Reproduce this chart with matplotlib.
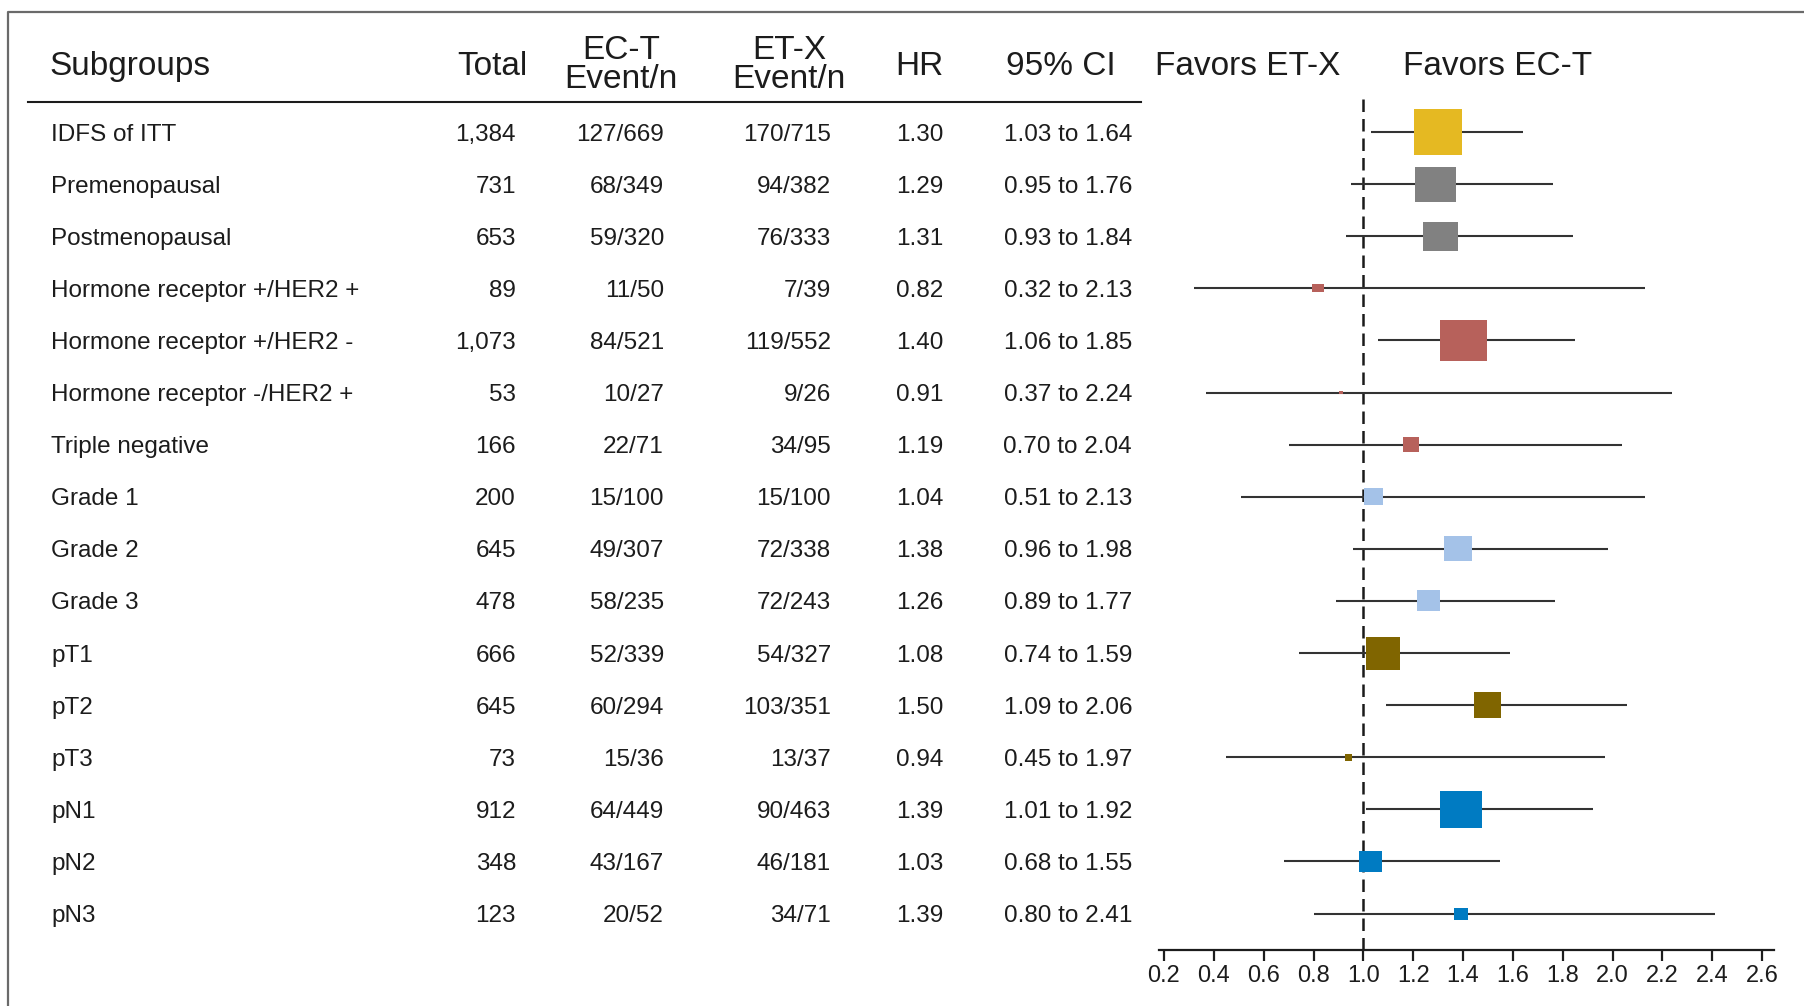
import matplotlib
matplotlib.use("Agg")
import matplotlib.pyplot as plt
from matplotlib.lines import Line2D
from matplotlib.patches import Rectangle
from matplotlib.transforms import blended_transform_factory

plt.rcParams['font.family'] = ['Liberation Sans', 'DejaVu Sans']

subgroups = [
    'IDFS of ITT', 'Premenopausal', 'Postmenopausal',
    'Hormone receptor +/HER2 +', 'Hormone receptor +/HER2 -',
    'Hormone receptor -/HER2 +', 'Triple negative',
    'Grade 1', 'Grade 2', 'Grade 3', 'pT1', 'pT2', 'pT3', 'pN1', 'pN2', 'pN3',
]
total = ['1,384', '731', '653', '89', '1,073', '53', '166', '200', '645', '478',
         '666', '645', '73', '912', '348', '123']
ect_events = ['127/669', '68/349', '59/320', '11/50', '84/521', '10/27', '22/71',
              '15/100', '49/307', '58/235', '52/339', '60/294', '15/36', '64/449',
              '43/167', '20/52']
etx_events = ['170/715', '94/382', '76/333', '7/39', '119/552', '9/26', '34/95',
              '15/100', '72/338', '72/243', '54/327', '103/351', '13/37', '90/463',
              '46/181', '34/71']
hr = [1.30, 1.29, 1.31, 0.82, 1.40, 0.91, 1.19, 1.04, 1.38, 1.26,
      1.08, 1.50, 0.94, 1.39, 1.03, 1.39]
ci_lo = [1.03, 0.95, 0.93, 0.32, 1.06, 0.37, 0.70, 0.51, 0.96, 0.89,
         0.74, 1.09, 0.45, 1.01, 0.68, 0.80]
ci_hi = [1.64, 1.76, 1.84, 2.13, 1.85, 2.24, 2.04, 2.13, 1.98, 1.77,
         1.59, 2.06, 1.97, 1.92, 1.55, 2.41]
xticks = [0.2, 0.4, 0.6, 0.8, 1.0, 1.2, 1.4, 1.6, 1.8, 2.0, 2.2, 2.4, 2.6]

# box size per row (pixels, w x h) and colour per subgroup block
box_px = [(48, 46), (41, 35), (35, 29), (12, 8), (47, 41), (4, 3), (16, 15),
          (19, 17), (28, 25), (23, 21), (34, 33), (27, 26), (7, 7),
          (42, 37), (23, 21), (14, 12)]
colors = ['#E5B922'] + ['#818181'] * 2 + ['#B7615B'] * 4 + ['#A4C2E8'] * 3 \
    + ['#806500'] * 3 + ['#007BC2'] * 3

W, H = 1804, 1006
TXT = '#1c1c1c'
fig = plt.figure(figsize=(W / 100, H / 100), dpi=100)

# forest panel: x maps 0.2 -> 1164px, 2.6 -> 1762px
px_per_unit = (1762 - 1164) / 2.4
x0, x1 = 0.178, 2.65
left = 1164 + (x0 - 0.2) * px_per_unit
right = 1164 + (x1 - 0.2) * px_per_unit
row0, row_gap = 132, 52.1
y_top_px, y_bot_px = 97, 950
ax = fig.add_axes([left / W, 1 - y_bot_px / H, (right - left) / W, (y_bot_px - y_top_px) / H])
ax.set_xlim(x0, x1)
ax.set_ylim((y_bot_px - row0) / row_gap, (y_top_px - row0) / row_gap)

for s in ['top', 'right', 'left']:
    ax.spines[s].set_visible(False)
ax.spines['bottom'].set_linewidth(1.6)
ax.spines['bottom'].set_color(TXT)
ax.set_yticks([])
ax.set_xticks(xticks)
ax.set_xticklabels([f'{t:.1f}' for t in xticks])
ax.tick_params(axis='x', length=8, width=1.6, color=TXT, labelsize=17, labelcolor=TXT, pad=3)

ax.axvline(1.0, color='#1a1a1a', linewidth=1.8, linestyle=(0, (5, 2.8)), zorder=1)

for i in range(len(subgroups)):
    ax.plot([ci_lo[i], ci_hi[i]], [i, i], color='#333333', linewidth=1.5,
            solid_capstyle='butt', zorder=2)
    bw = box_px[i][0] / px_per_unit
    bh = box_px[i][1] / row_gap
    ax.add_patch(Rectangle((hr[i] - bw / 2, i - bh / 2), bw, bh,
                           facecolor=colors[i], edgecolor='none', zorder=3))

# table columns, x in figure pixels and y in row units
tr = blended_transform_factory(fig.transFigure, ax.transData)
body = dict(transform=tr, va='center_baseline', fontsize=17.5, color=TXT, clip_on=False)
for i in range(len(subgroups)):
    ax.text(51 / W, i, subgroups[i], ha='left', **body)
    ax.text(516 / W, i, total[i], ha='right', **body)
    ax.text(664 / W, i, ect_events[i], ha='right', **body)
    ax.text(831 / W, i, etx_events[i], ha='right', **body)
    ax.text(943 / W, i, f'{hr[i]:.2f}', ha='right', **body)
    ax.text(1132 / W, i, f'{ci_lo[i]:.2f} to {ci_hi[i]:.2f}', ha='right', **body)

head = dict(va='center_baseline', fontsize=24, color=TXT)
fig.text(49 / W, 1 - 63 / H, 'Subgroups', ha='left', **head)
fig.text(492 / W, 1 - 63 / H, 'Total', ha='center', **head)
fig.text(621 / W, 1 - 47 / H, 'EC-T', ha='center', **head)
fig.text(621 / W, 1 - 76 / H, 'Event/n', ha='center', **head)
fig.text(789 / W, 1 - 47 / H, 'ET-X', ha='center', **head)
fig.text(789 / W, 1 - 76 / H, 'Event/n', ha='center', **head)
fig.text(919 / W, 1 - 63 / H, 'HR', ha='center', **head)
fig.text(1061 / W, 1 - 63 / H, '95% CI', ha='center', **head)
fig.text(1248 / W, 1 - 63 / H, 'Favors ET-X', ha='center', **head)
fig.text(1498 / W, 1 - 63 / H, 'Favors EC-T', ha='center', **head)

# rule under the header and the outer frame
fig.add_artist(Line2D([28 / W, 1141 / W], [1 - 102 / H] * 2, color=TXT,
                      linewidth=1.5, transform=fig.transFigure))
fig.add_artist(Line2D([8 / W, 8 / W, 1], [0, 1 - 12 / H, 1 - 12 / H], color='#6a6a6a',
                      linewidth=1.6, transform=fig.transFigure))

fig.savefig('out.png', dpi=100, facecolor='white')
